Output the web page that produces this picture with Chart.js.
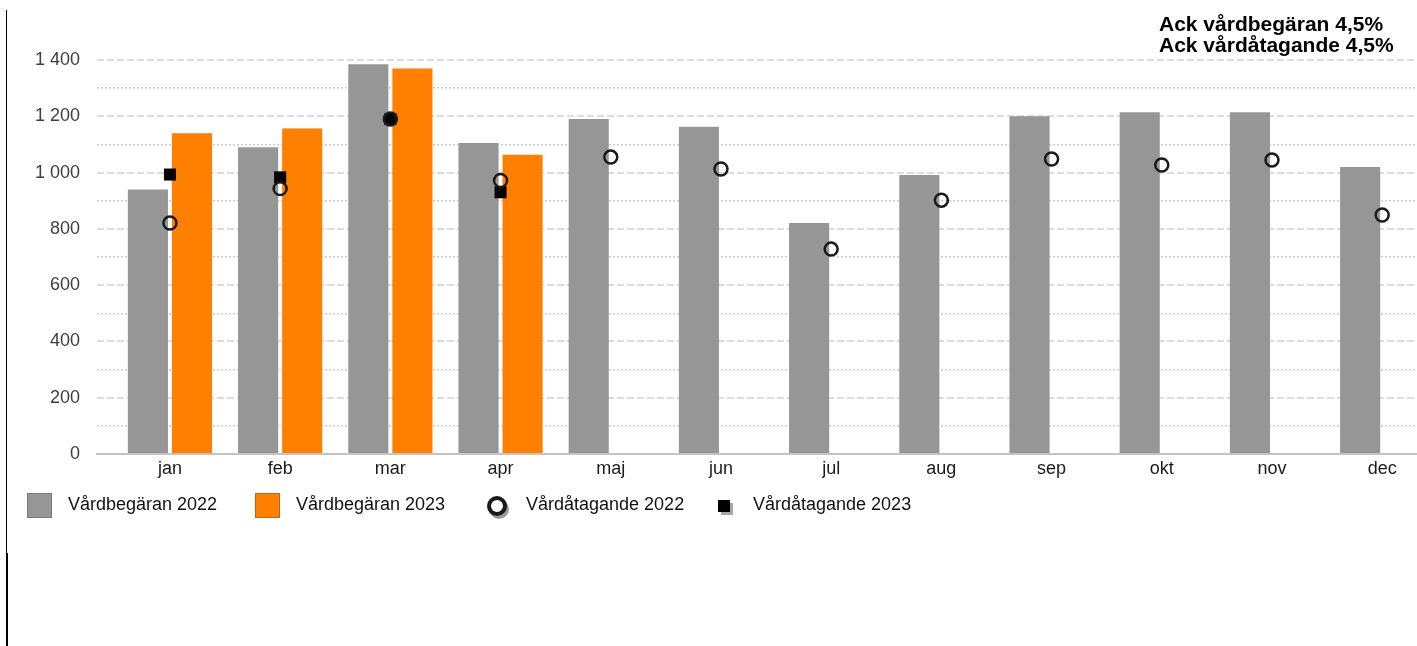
<!DOCTYPE html>
<html>
<head>
<meta charset="utf-8">
<script src="https://cdn.jsdelivr.net/npm/chart.js@4.4.1/dist/chart.umd.min.js"></script>
<style>
  body { margin: 0; background: #fff; overflow: hidden; font-family: "Liberation Sans", Arial, sans-serif; }
  #wrap { position: relative; width: 1417px; height: 646px; }
  #myChart { position: absolute; left: 0; top: 0; }
  #ack { position: absolute; left: 1159px; top: 13px; font: bold 21px/21px "Liberation Sans", Arial, sans-serif; color: #000; white-space: nowrap; }
  .edge { position: absolute; background: #000; }
  .item { position: absolute; top: 493px; height: 25px; display: flex; align-items: center; font-size: 18px; color: #111; white-space: nowrap; }
  .item span { position: relative; top: -1px; }
  .box { width: 23px; height: 23px; border: 1px solid #777; margin-right: 16px; }
  .ring { width: 12px; height: 12px; border: 4px solid #1a1a1a; border-radius: 50%; background: #fff; box-shadow: 2px 3px 0 #9a9a9a; margin-right: 19px; }
  .sq { width: 12px; height: 12px; background: #000; box-shadow: 3px 3px 0 #a8a8a8; margin-right: 23px; }
</style>
</head>
<body>
<div id="wrap">
  <canvas id="myChart" width="1417" height="646"></canvas>
  <div id="ack">Ack vårdbegäran 4,5%<br>Ack vårdåtagande 4,5%</div>
  <div class="edge" style="left:6px;top:10px;width:1px;height:543px"></div>
  <div class="edge" style="left:6px;top:553px;width:2px;height:93px"></div>
  <div id="legend"></div>
</div>
<script>
const months = ['jan', 'feb', 'mar', 'apr', 'maj', 'jun', 'jul', 'aug', 'sep', 'okt', 'nov', 'dec'];
const requests2022 = [940, 1090, 1385, 1105, 1190, 1163, 821, 991, 1200, 1214, 1214, 1020];
const requests2023 = [1140, 1157, 1370, 1063];
const care2022 = [821, 943, 1190, 972, 1055, 1013, 728, 902, 1048, 1027, 1045, 849];
const care2023 = [993, 983, 1190, 930];
const yTicks = [0, 200, 400, 600, 800, 1000, 1200, 1400];

const toPoints = (vals) => vals.map((v, i) => ({ x: i, y: v }));
const fmt = (v) => String(v).replace(/\B(?=(\d{3})+(?!\d))/g, ' ');

const ctx = document.getElementById('myChart');

const chart = new Chart(ctx, {
  type: 'bar',
  data: {
    datasets: [
      {
        type: 'line',
        label: 'Vårdåtagande 2022',
        data: toPoints(care2022),
        showLine: false,
        pointStyle: 'circle',
        pointRadius: 6.5,
        pointBorderWidth: 2.5,
        pointBorderColor: '#1a1a1a',
        pointBackgroundColor: (c) => c.dataIndex === 2 ? '#000' : 'rgba(0,0,0,0)',
        order: 0
      },
      {
        type: 'line',
        label: 'Vårdåtagande 2023',
        data: toPoints(care2023),
        showLine: false,
        pointStyle: 'rect',
        pointRadius: 8.5,
        pointBorderWidth: 0,
        pointBackgroundColor: '#000',
        order: 1
      },
      {
        label: 'Vårdbegäran 2022',
        data: toPoints(requests2022),
        backgroundColor: '#969696',
        categoryPercentage: 0.8,
        barPercentage: 0.91,
        order: 2
      },
      {
        label: 'Vårdbegäran 2023',
        data: toPoints(requests2023),
        backgroundColor: '#ff8000',
        categoryPercentage: 0.8,
        barPercentage: 0.91,
        order: 3
      }
    ]
  },
  options: {
    responsive: false,
    animation: false,
    devicePixelRatio: 1,
    layout: { autoPadding: false, padding: { top: 60, left: 0, right: 0, bottom: 162 } },
    plugins: { legend: { display: false }, tooltip: { enabled: false } },
    scales: {
      x: {
        type: 'linear',
        offset: false,
        min: -0.662,
        max: 11.316,
        afterBuildTicks: (s) => { s.ticks = months.map((m, i) => ({ value: i })); },
        afterFit: (s) => { s.height = 30; s.paddingLeft = 0; s.paddingRight = 0; },
        grid: { display: false, offset: false, drawTicks: false },
        border: { display: true, color: '#c4c4c4', width: 2 },
        ticks: {
          autoSkip: false,
          maxRotation: 0,
          padding: 4,
          color: '#1a1a1a',
          font: { family: '"Liberation Sans", Arial, sans-serif', size: 18 },
          callback: (v) => months[v]
        }
      },
      y: {
        min: 0,
        max: 1400,
        afterBuildTicks: (s) => {
          const t = [];
          for (let v = 0; v <= 1400; v += 100) t.push({ value: v });
          s.ticks = t;
        },
        afterFit: (s) => { s.width = 97; },
        grid: {
          drawTicks: false,
          lineWidth: (c) => c.tick && c.tick.value % 200 === 0 ? 2 : 1.5,
          color: (c) => {
            if (!c.tick || c.tick.value === 0) return 'rgba(0,0,0,0)';
            return c.tick.value % 200 === 0 ? '#dcdcdc' : '#cbcbcb';
          }
        },
        border: {
          display: false,
          dash: (c) => c.tick && c.tick.value % 200 === 0 ? [7, 3] : [2, 2]
        },
        ticks: {
          autoSkip: false,
          padding: 17,
          color: '#404040',
          font: { family: '"Liberation Sans", Arial, sans-serif', size: 18 },
          callback: (v) => yTicks.includes(v) ? fmt(v) : ''
        }
      }
    }
  }
});

// legend in the order of the original chart
const legendEntries = [
  { label: chart.data.datasets[2].label, cls: 'box', color: '#969696', border: '#7a7a7a', left: 27 },
  { label: chart.data.datasets[3].label, cls: 'box', color: '#ff8000', border: '#b8661e', left: 255 },
  { label: chart.data.datasets[0].label, cls: 'ring', left: 487 },
  { label: chart.data.datasets[1].label, cls: 'sq', left: 718 }
];
const legend = document.getElementById('legend');
legendEntries.forEach(e => {
  const item = document.createElement('div');
  item.className = 'item';
  item.style.left = e.left + 'px';
  const icon = document.createElement('div');
  icon.className = e.cls;
  if (e.color) Object.assign(icon.style, { background: e.color, borderColor: e.border });
  const text = document.createElement('span');
  text.textContent = e.label;
  item.appendChild(icon);
  item.appendChild(text);
  legend.appendChild(item);
});
</script>
</body>
</html>
